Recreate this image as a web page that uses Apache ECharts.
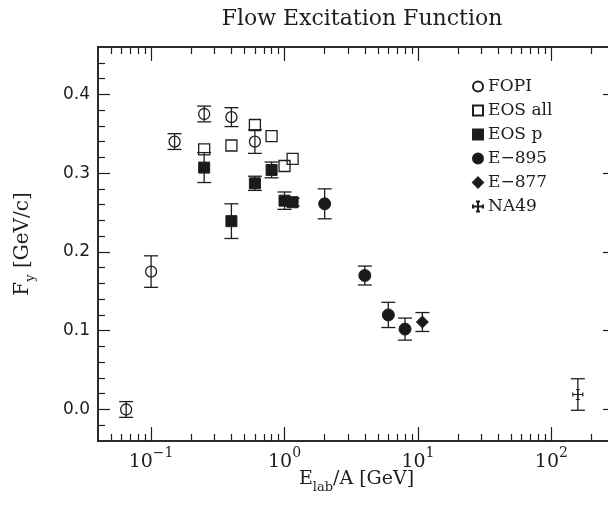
<!DOCTYPE html>
<html>
<head>
<meta charset="utf-8">
<script src="https://cdn.jsdelivr.net/npm/echarts@6/dist/echarts.min.js"></script>
<style>html,body{margin:0;padding:0;background:#fff}#c{width:608px;height:512px}</style>
</head>
<body>
<div id="c"></div>
<script>
// ---- data ----
const fopiX   = [0.065, 0.10, 0.15, 0.25, 0.40, 0.60];
const fopiY   = [0.000, 0.175, 0.340, 0.375, 0.371, 0.340];
const fopiErr = [0.010, 0.020, 0.010, 0.010, 0.012, 0.015];

const eosAllX = [0.25, 0.40, 0.60, 0.80, 1.00, 1.15];
const eosAllY = [0.330, 0.335, 0.361, 0.347, 0.309, 0.318];

const eosPX   = [0.25, 0.40, 0.60, 0.80, 1.00, 1.15];
const eosPY   = [0.307, 0.239, 0.287, 0.304, 0.265, 0.263];
const eosPErr = [0.019, 0.022, 0.009, 0.010, 0.011, 0.005];

const e895X   = [2.0, 4.0, 6.0, 8.0];
const e895Y   = [0.261, 0.170, 0.120, 0.102];
const e895Err = [0.019, 0.012, 0.016, 0.014];

const e877X   = [10.8];
const e877Y   = [0.111];
const e877Err = [0.012];

const na49X   = [158];
const na49Y   = [0.019];
const na49Err = [0.020];

// axis ticks
const xMajorTicks = [0.1, 1, 10, 100];
const xExpLabels  = ['\u22121', '0', '1', '2'];
const xMinorTicks = [0.05,0.06,0.07,0.08,0.09, 0.2,0.3,0.4,0.5,0.6,0.7,0.8,0.9,
                     2,3,4,5,6,7,8,9, 20,30,40,50,60,70,80,90, 200];
const yMajorTicks = [0.0, 0.1, 0.2, 0.3, 0.4];
const yTickLabels = ['0.0', '0.1', '0.2', '0.3', '0.4'];
const yMinorTicks = [-0.02, 0.02, 0.04, 0.06, 0.08, 0.12, 0.14, 0.16, 0.18,
                     0.22, 0.24, 0.26, 0.28, 0.32, 0.34, 0.36, 0.38, 0.42, 0.44];

const X_MIN = 0.04, X_MAX = 300, Y_MIN = -0.04, Y_MAX = 0.46;

// ---- chart ----
const INK = '#1e1e1e';
const SERIF = '"DejaVu Serif", "Liberation Serif", serif';
const SANS = '"DejaVu Sans", sans-serif';

const zip2 = (xs, ys) => xs.map((x, i) => [x, ys[i]]);
const errData = (xs, ys, es) => xs.map((x, i) => [x, ys[i] - es[i], ys[i] + es[i]]);

function errSeries(data) {
  return {
    type: 'custom', xAxisIndex: 0, yAxisIndex: 0, z: 1, silent: true,
    encode: { x: 0, y: [1, 2] },
    data: data,
    renderItem: function (params, api) {
      const x = api.value(0), lo = api.value(1), hi = api.value(2);
      const pt = api.coord([x, hi]), pb = api.coord([x, lo]);
      const w = 7;
      const st = { stroke: INK, lineWidth: 1.3 };
      return { type: 'group', children: [
        { type: 'line', shape: { x1: pt[0], y1: pt[1], x2: pb[0], y2: pb[1] }, style: st },
        { type: 'line', shape: { x1: pt[0] - w, y1: pt[1], x2: pt[0] + w, y2: pt[1] }, style: st },
        { type: 'line', shape: { x1: pb[0] - w, y1: pb[1], x2: pb[0] + w, y2: pb[1] }, style: st }
      ]};
    }
  };
}

function xAxisDef(pos, ticks, len, labels) {
  return {
    type: 'log', logBase: 10, min: X_MIN, max: X_MAX, position: pos, gridIndex: 0,
    axisLine: { show: true, onZero: false, lineStyle: { color: INK, width: 1.5 } },
    axisTick: { show: true, inside: true, length: len, customValues: ticks,
                lineStyle: { color: INK, width: 1.2 } },
    axisLabel: labels ? {
      show: true, customValues: xMajorTicks, margin: 5,
      formatter: function (v) {
        const i = xMajorTicks.findIndex(t => Math.abs(Math.log10(t) - Math.log10(v)) < 1e-6);
        return '{b|10}{s|' + (i >= 0 ? xExpLabels[i] : '') + '}';
      },
      rich: {
        b: { fontFamily: SERIF, fontSize: 19, color: INK, lineHeight: 26, verticalAlign: 'bottom' },
        s: { fontFamily: SERIF, fontSize: 14, color: INK, lineHeight: 26, verticalAlign: 'top' }
      }
    } : { show: false },
    splitLine: { show: false }, minorTick: { show: false }
  };
}
function yAxisDef(pos, ticks, len, labels) {
  return {
    type: 'value', min: Y_MIN, max: Y_MAX, position: pos, gridIndex: 0,
    axisLine: { show: true, onZero: false, lineStyle: { color: INK, width: 1.5 } },
    axisTick: { show: true, inside: true, length: len, customValues: ticks,
                lineStyle: { color: INK, width: 1.2 } },
    axisLabel: labels ? {
      show: true, customValues: yMajorTicks, margin: 8,
      fontFamily: SANS, fontSize: 17, color: INK,
      formatter: function (v) {
        const i = yMajorTicks.findIndex(t => Math.abs(t - v) < 1e-6);
        return i >= 0 ? yTickLabels[i] : '';
      }
    } : { show: false },
    splitLine: { show: false }, minorTick: { show: false }
  };
}

const xAxes = [
  xAxisDef('bottom', xMajorTicks, 14, true),
  xAxisDef('bottom', xMinorTicks, 7, false),
  xAxisDef('top', xMajorTicks, 14, false),
  xAxisDef('top', xMinorTicks, 7, false)
];
xAxes[0].name = '{m|E}{sub|lab}{m|/A [GeV]}';
xAxes[0].nameLocation = 'middle';
xAxes[0].nameGap = 29;
xAxes[0].nameMoveOverlap = false;
xAxes[0].nameTextStyle = { rich: {
  m: { fontFamily: SERIF, fontSize: 19, color: INK, lineHeight: 26, verticalAlign: 'top' },
  sub: { fontFamily: SERIF, fontSize: 13, color: INK, lineHeight: 26, verticalAlign: 'bottom', padding: [0, 0, 2, 0] }
}};

const yAxes = [
  yAxisDef('left', yMajorTicks, 12, true),
  yAxisDef('left', yMinorTicks, 7, false),
  yAxisDef('right', yMajorTicks, 12, false),
  yAxisDef('right', yMinorTicks, 7, false)
];
yAxes[0].name = '{m|F}{sub|y}{m| [GeV/c]}';
yAxes[0].nameLocation = 'middle';
yAxes[0].nameGap = 59;
yAxes[0].nameMoveOverlap = false;
yAxes[0].nameTextStyle = { rich: {
  m: { fontFamily: SERIF, fontSize: 20, color: INK, lineHeight: 26, verticalAlign: 'top' },
  sub: { fontFamily: SERIF, fontSize: 13, color: INK, lineHeight: 26, verticalAlign: 'bottom', padding: [0, 0, 2, 0] }
}};

const openStyle = { color: 'rgba(255,255,255,0)', borderColor: INK, borderWidth: 1.3, opacity: 1 };
const fillStyle = { color: '#1a1a1a', borderColor: INK, borderWidth: 1, opacity: 1 };
const crossPath = 'path://M0,3L0,7M0,5L10,5M10,3L10,7M5,0L5,10M3,0L7,0M3,10L7,10';

const option = {
  animation: false,
  backgroundColor: '#ffffff',
  title: {
    text: 'Flow Excitation Function', left: 357, top: 3, textAlign: 'center',
    textStyle: { fontFamily: SERIF, fontSize: 22, fontWeight: 'normal', color: INK }
  },
  grid: { left: 98, top: 47, width: 517, height: 394, containLabel: false, outerBoundsMode: 'none' },
  legend: {
    orient: 'vertical', left: 467, top: 73, itemWidth: 10, itemHeight: 10, itemGap: 7,
    textStyle: { fontFamily: SERIF, fontSize: 17, color: INK, lineHeight: 16 },
    data: ['FOPI', 'EOS all', 'EOS p', 'E\u2212895', 'E\u2212877', 'NA49']
  },
  xAxis: xAxes,
  yAxis: yAxes,
  series: [
    errSeries(errData(fopiX, fopiY, fopiErr)),
    errSeries(errData(eosPX, eosPY, eosPErr)),
    errSeries(errData(e895X, e895Y, e895Err)),
    errSeries(errData(e877X, e877Y, e877Err)),
    errSeries(errData(na49X, na49Y, na49Err)),
    { name: 'FOPI', type: 'scatter', z: 3, symbol: 'circle', symbolSize: 11,
      itemStyle: openStyle, data: zip2(fopiX, fopiY) },
    { name: 'EOS all', type: 'scatter', z: 3, symbol: 'rect', symbolSize: 11,
      itemStyle: openStyle, data: zip2(eosAllX, eosAllY) },
    { name: 'EOS p', type: 'scatter', z: 4, symbol: 'rect', symbolSize: 11,
      itemStyle: fillStyle, data: zip2(eosPX, eosPY) },
    { name: 'E\u2212895', type: 'scatter', z: 4, symbol: 'circle', symbolSize: 12,
      itemStyle: fillStyle, data: zip2(e895X, e895Y) },
    { name: 'E\u2212877', type: 'scatter', z: 4, symbol: 'diamond', symbolSize: 12,
      itemStyle: fillStyle, data: zip2(e877X, e877Y) },
    { name: 'NA49', type: 'scatter', z: 4, symbol: crossPath, symbolSize: 10,
      itemStyle: { color: 'rgba(255,255,255,0)', borderColor: INK, borderWidth: 1.2, opacity: 1 },
      data: zip2(na49X, na49Y) }
  ]
};

const chart = echarts.init(document.getElementById('c'), null, { renderer: 'canvas' });
chart.setOption(option);
</script>
</body>
</html>
